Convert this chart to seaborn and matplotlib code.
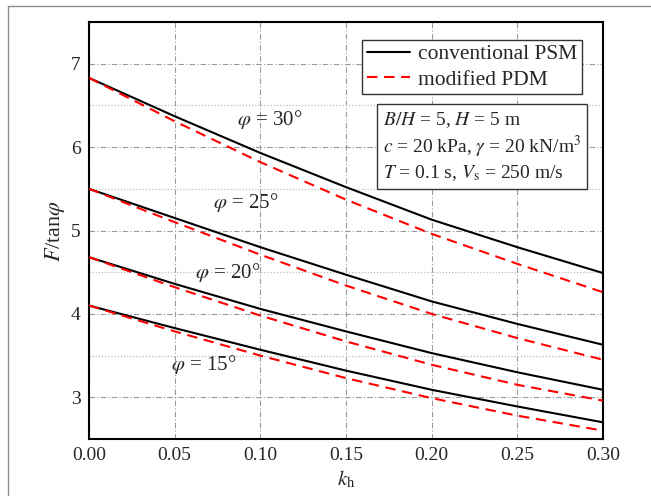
import matplotlib
matplotlib.use("Agg")
import matplotlib.pyplot as plt
import numpy as np
import pandas as pd
import seaborn as sns
from matplotlib.lines import Line2D
from matplotlib.ticker import MultipleLocator, FormatStrFormatter

# Horizontal seismic coefficient
kh = [0.00, 0.05, 0.10, 0.15, 0.20, 0.25, 0.30]

# Friction angles (degrees)
phi_values = [30, 25, 20, 15]

# F/tan(phi) for the conventional pseudo-static method
psm_30 = [6.83, 6.37, 5.93, 5.52, 5.13, 4.80, 4.49]
psm_25 = [5.50, 5.15, 4.80, 4.47, 4.15, 3.88, 3.63]
psm_20 = [4.68, 4.36, 4.06, 3.79, 3.53, 3.30, 3.09]
psm_15 = [4.10, 3.83, 3.57, 3.32, 3.09, 2.89, 2.70]

# F/tan(phi) for the modified pseudo-dynamic method
pdm_30 = [6.83, 6.31, 5.82, 5.37, 4.96, 4.60, 4.26]
pdm_25 = [5.50, 5.10, 4.71, 4.34, 4.00, 3.71, 3.45]
pdm_20 = [4.68, 4.32, 3.98, 3.67, 3.39, 3.15, 2.96]
pdm_15 = [4.10, 3.79, 3.50, 3.23, 2.99, 2.78, 2.60]

method_labels = ["conventional PSM", "modified PDM"]

# Curve label positions (kh, F/tan phi)
label_k = [0.1056, 0.0917, 0.081, 0.0667]
label_y = [6.33, 5.33, 4.50, 3.39]

psm = dict(zip(phi_values, [psm_30, psm_25, psm_20, psm_15]))
pdm = dict(zip(phi_values, [pdm_30, pdm_25, pdm_20, pdm_15]))

rows = []
for phi in phi_values:
    for k, v in zip(kh, psm[phi]):
        rows.append({"kh": k, "F": v, "phi": phi, "method": method_labels[0]})
    for k, v in zip(kh, pdm[phi]):
        rows.append({"kh": k, "F": v, "phi": phi, "method": method_labels[1]})
df = pd.DataFrame(rows)

sns.set_style("white")
plt.rcParams["font.family"] = ["Liberation Serif", "DejaVu Serif"]
plt.rcParams["mathtext.fontset"] = "stix"

W, H = 651, 496
fig = plt.figure(figsize=(W / 100, H / 100), dpi=100)
ax = fig.add_axes([89 / W, 1 - 439 / H, (603 - 89) / W, (439 - 22) / H])

colors = {method_labels[0]: "black", method_labels[1]: "#ff0000"}
dashes = {method_labels[0]: "", method_labels[1]: (5, 3.2)}

sns.lineplot(data=df, x="kh", y="F", hue="method", style="method",
             units="phi", estimator=None, palette=colors, dashes=dashes,
             linewidth=1.5, legend=False, ax=ax, zorder=3)

ax.set_xlim(0, 0.30)
ax.set_ylim(2.5, 7.5)
ax.xaxis.set_major_locator(MultipleLocator(0.05))
ax.yaxis.set_major_locator(MultipleLocator(1))
ax.yaxis.set_minor_locator(MultipleLocator(0.5))
ax.xaxis.set_major_formatter(FormatStrFormatter("%.2f"))

ax.grid(True, which="major", color="#9a9a9a", linewidth=0.8,
        linestyle=(0, (5, 2, 1, 2)))
ax.grid(True, which="minor", axis="y", color="#bdbdbd", linewidth=0.9,
        linestyle=(0, (1, 1.5)))
ax.set_axisbelow(True)

for s in ax.spines.values():
    s.set_linewidth(1.5)
    s.set_color("black")

ax.tick_params(which="major", direction="in", length=5, width=1.5,
               labelsize=14, top=False, right=False)
ax.tick_params(axis="x", which="major", pad=6)
ax.tick_params(axis="y", which="major", pad=6)
ax.tick_params(which="minor", direction="in", length=3, width=1.0,
               top=False, right=False)
ax.tick_params(axis="x", which="minor", length=0)

ax.set_xlabel(r"$k_\mathrm{h}$", fontsize=15, labelpad=3)
ax.set_ylabel(r"$F$/tan$\varphi$", fontsize=16)
ax.yaxis.set_label_coords(-0.043, 0.5)

for phi, xk, yk in zip(phi_values, label_k, label_y):
    ax.text(xk, yk, r"$\varphi$ = %d°" % phi, fontsize=15,
            ha="center", va="center")

handles = [Line2D([], [], color=colors[m], linewidth=1.5,
                  linestyle=(0, dashes[m]) if dashes[m] else "-")
           for m in method_labels]
leg = ax.legend(handles, method_labels, loc="upper right",
                bbox_to_anchor=(582 / W, 1 - 40 / H),
                bbox_transform=fig.transFigure, fontsize=15.5,
                frameon=True, fancybox=False, framealpha=1,
                edgecolor="#333333", borderaxespad=0, borderpad=0.2,
                handlelength=2.0, handletextpad=0.4, labelspacing=0.25)
leg.get_frame().set_linewidth(1.0)

info = ("$B/H$ = 5, $H$ = 5 m\n"
        "$c$ = 20 kPa, $\\gamma$ = 20 kN/m$^3$\n"
        "$T$ = 0.1 s, $V_\\mathrm{s}$ = 250 m/s")
fig.text(383 / W, 1 - 110 / H, info, fontsize=14, ha="left", va="top",
         linespacing=1.22,
         bbox=dict(boxstyle="square,pad=0.3", fc="white", ec="#333333", lw=1.0))

# Thin frame around the figure
fig.add_artist(Line2D([8 / W, 8 / W], [0, 1 - 6 / H], transform=fig.transFigure,
                      color="#8c8c8c", linewidth=1.0))
fig.add_artist(Line2D([8 / W, 1], [1 - 6 / H, 1 - 6 / H], transform=fig.transFigure,
                      color="#8c8c8c", linewidth=1.0))

fig.savefig("out.png", dpi=100)
